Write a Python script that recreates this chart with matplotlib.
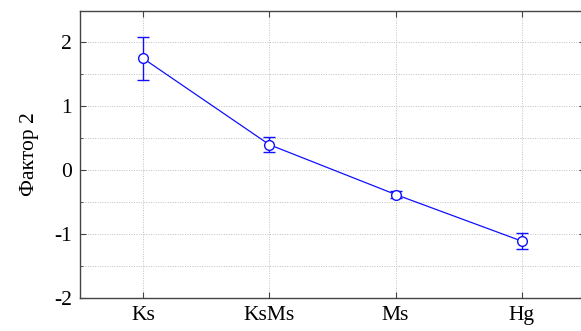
import matplotlib
matplotlib.use("Agg")
import matplotlib.pyplot as plt
from matplotlib.ticker import MultipleLocator

categories = ["Ks", "KsMs", "Ms", "Hg"]
means = [1.75, 0.40, -0.38, -1.11]
errors = [0.33, 0.12, 0.05, 0.12]
ylabel = "Фактор 2"

plt.rcParams['font.family'] = ['Liberation Serif', 'DejaVu Serif']
plt.rcParams['axes.unicode_minus'] = False

fig = plt.figure(figsize=(5.81, 3.31), dpi=100)
ax = fig.add_axes([80/581, 1 - 298/331, 505/581, (298 - 10.5)/331])

x = list(range(len(categories)))
ax.errorbar(x, means, yerr=errors, color='#1010ff', lw=0.9, marker='o',
            markersize=7, markerfacecolor='white', markeredgecolor='#1010ff',
            markeredgewidth=1.0, capsize=4, elinewidth=1.0, capthick=1.0, zorder=3)

ax.set_xlim(-0.5, 3.5)
ax.set_ylim(-2, 2.5)
ax.set_xticks(x)
ax.set_xticklabels(categories)
ax.yaxis.set_major_locator(MultipleLocator(1))
ax.yaxis.set_minor_locator(MultipleLocator(0.5))
ax.grid(True, which='both', axis='y', color='#c0c0c0', linestyle=(0, (1, 1.5)), linewidth=0.7)
ax.grid(True, which='major', axis='x', color='#c0c0c0', linestyle=(0, (1, 1.5)), linewidth=0.7)
ax.tick_params(which='both', direction='in', top=True, right=True, labelsize=15.5,
               color='#444444', length=4)
ax.tick_params(which='minor', length=2)
ax.tick_params(axis='x', pad=6)
ax.tick_params(axis='y', pad=6)
for s in ax.spines.values():
    s.set_color('#444444')
    s.set_linewidth(1.0)
ax.set_ylabel(ylabel, fontsize=15.5, labelpad=11)

fig.savefig("out.png", dpi=100)
